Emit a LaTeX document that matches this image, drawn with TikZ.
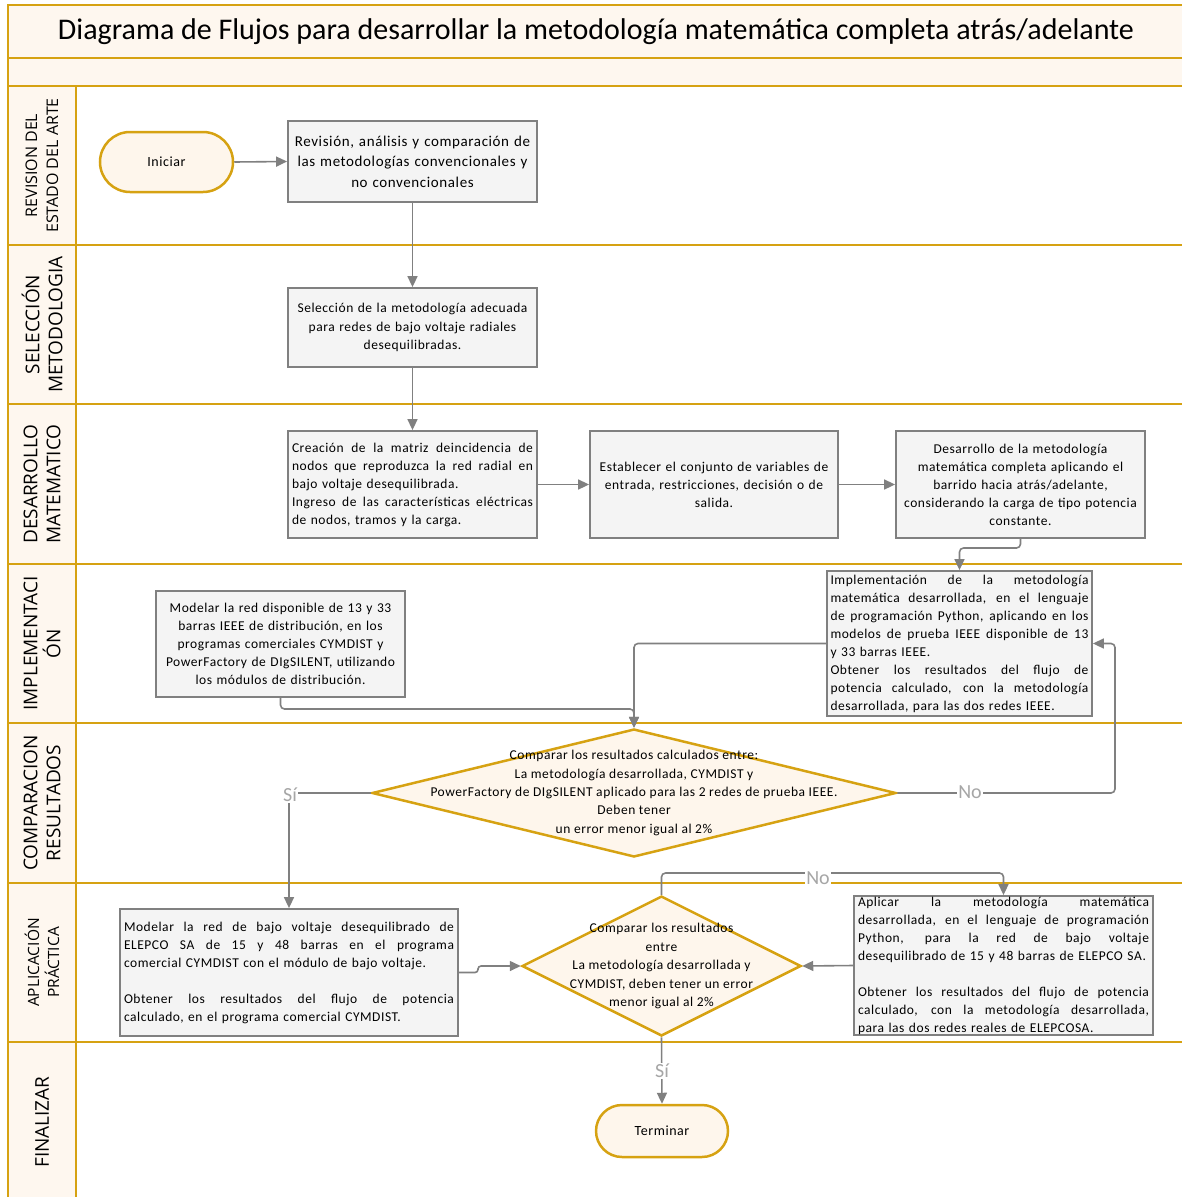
\documentclass[tikz,border=0pt]{standalone}
\usepackage{fontspec}
\setmainfont{Carlito}
\newfontfamily\boxfont[LetterSpace=4]{Carlito}
\newfontfamily\lanefont{Open Sans}
\usetikzlibrary{arrows.meta,shapes.geometric}
\setlength{\parindent}{0pt}
\newcommand{\setfs}[2]{\fontsize{#1}{#2}\selectfont}
% one fully justified line of a block: word spaces stretch to the full width
\newcommand{\fillline}[1]{\makebox[\hsize][s]{\spaceskip=\fontdimen2\font plus 1fil\relax #1}}
\definecolor{lanegold}{RGB}{214,162,18}
\definecolor{lanecream}{RGB}{254,247,239}
\definecolor{stepfill}{RGB}{244,244,244}
\definecolor{stepline}{RGB}{128,128,128}
\definecolor{flowgray}{RGB}{128,128,128}
\definecolor{answergray}{RGB}{166,166,166}
\definecolor{decisionfill}{RGB}{254,246,236}
\begin{document}
\begin{tikzpicture}[x=1pt,y=-1pt,
  laneline/.style={draw=lanegold,line width=2.6pt},
  stepbox/.style={draw=stepline,fill=stepfill,line width=1.8pt,inner xsep=4pt,inner ysep=2pt,font=\boxfont\setfs{13.5}{18}},
  terminal/.style={draw=lanegold,fill=decisionfill,line width=2.5pt,font=\boxfont\setfs{14}{16}},
  decision/.style={diamond,draw=lanegold,fill=decisionfill,line width=2.5pt,inner sep=0pt},
  decisiontext/.style={align=center,inner sep=0pt},
  flow/.style={draw=flowgray,line width=1.6pt,rounded corners=4pt,-{Triangle[length=11pt,width=10pt]}},
  answer/.style={text=answergray,fill=white,inner sep=1pt,font=\setfs{20}{20}},
  lanetitle/.style={rotate=90,align=center}
]
\useasboundingbox (0,0) rectangle (1181,1197);

% swimlane frame
\fill[lanecream] (8,5) rectangle (1190,86);
\fill[lanecream] (8,86) rectangle (76,1205);
\draw[laneline] (1190,5) -- (8,5) -- (8,1205);
\foreach \y in {58,86,245,404,564,723,883,1042}
  \draw[laneline] (8,\y) -- (1190,\y);
\draw[laneline] (76,86) -- (76,1205);

\node[font=\setfs{30}{34}] (title) at (596,32) {Diagrama de Flujos para desarrollar la metodología matemática completa atrás/adelante};

% lane titles
\node[lanetitle,font=\lanefont\setfs{16}{21}] (laneA) at (42,165.5) {REVISION DEL\\ESTADO DEL ARTE};
\node[lanetitle,font=\lanefont\setfs{19}{23}] (laneB) at (42,324.5) {SELECCIÓN\\METODOLOGIA};
\node[lanetitle,font=\lanefont\setfs{19}{23}] (laneC) at (42,484) {DESARROLLO\\MATEMATICO};
\node[lanetitle,font=\lanefont\setfs{19}{23}] (laneD) at (42,643.5) {IMPLEMENTACI\\ÓN};
\node[lanetitle,font=\lanefont\setfs{19}{23}] (laneE) at (42,803) {COMPARACION\\RESULTADOS};
\node[lanetitle,font=\lanefont\setfs{15.5}{20}] (laneF) at (42,962.5) {APLICACIÓN\\PRÁCTICA};
\node[lanetitle,font=\lanefont\setfs{19}{23}] (laneG) at (42,1122) {FINALIZAR};

% process steps
\node[terminal,minimum width=133pt,minimum height=60pt,rounded corners=30pt] (start) at (166.5,162) {Iniciar};

\node[stepbox,minimum width=249pt,minimum height=81pt,text width=241pt,align=center,font=\boxfont\setfs{15}{20.5}] (box1) at (412.5,161.5)
 {Revisión, análisis y comparación de\\las metodologías convencionales y\\no convencionales};

\node[stepbox,minimum width=249pt,minimum height=79pt,text width=241pt,align=center,font=\boxfont\setfs{13.5}{18.5}] (box2) at (412.5,327.5)
 {Selección de la metodología adecuada\\para redes de bajo voltaje radiales\\desequilibradas.};

\node[stepbox,minimum width=249pt,minimum height=107pt,text width=241pt,align=left] (box3) at (412.5,484.5)
 {\fillline{Creación de la matriz deincidencia de}\\
  \fillline{nodos que reproduzca la red radial en}\\
  bajo voltaje desequilibrada.\\
  \fillline{Ingreso de las características eléctricas}\\
  de nodos, tramos y la carga.};

\node[stepbox,minimum width=248pt,minimum height=107pt,text width=240pt,align=center] (box4) at (714,484.5)
 {Establecer el conjunto de variables de\\entrada, restricciones, decisión o de\\salida.};

\node[stepbox,minimum width=249pt,minimum height=107pt,text width=241pt,align=center] (box5) at (1020.5,484.5)
 {Desarrollo de la metodología\\matemática completa aplicando el\\barrido hacia atrás/adelante,\\considerando la carga de tipo potencia\\constante.};

\node[stepbox,minimum width=265pt,minimum height=145pt,inner xsep=3.5pt,inner ysep=0pt,text width=258pt,align=left] (box6) at (959.5,643.5)
 {\fillline{Implementación de la metodología}\\
  \fillline{matemática desarrollada, en el lenguaje}\\
  \fillline{de programación Python, aplicando en los}\\
  \fillline{modelos de prueba IEEE disponible de 13}\\
  y 33 barras IEEE.\\
  \fillline{Obtener los resultados del flujo de}\\
  \fillline{potencia calculado, con la metodología}\\
  desarrollada, para las dos redes IEEE.};

\node[stepbox,minimum width=249pt,minimum height=106pt,text width=241pt,align=center] (box7) at (280.5,644)
 {Modelar la red disponible de 13 y 33\\barras IEEE de distribución, en los\\programas comerciales CYMDIST y\\PowerFactory de DIgSILENT, utilizando\\los módulos de distribución.};

\node[decision,minimum width=524pt,minimum height=128pt] (dia1) at (634,793) {};
\node[decisiontext,font=\boxfont\setfs{13.5}{18.3}] (dia1text) at (dia1.center)
 {Comparar los resultados calculados entre:\\La metodología desarrollada, CYMDIST y\\PowerFactory de DIgSILENT aplicado para las 2 redes de prueba IEEE.\\Deben tener\\un error menor igual al 2\%};

\node[stepbox,minimum width=338pt,minimum height=127pt,text width=330pt,align=left] (box8) at (289,972.5)
 {\fillline{Modelar la red de bajo voltaje desequilibrado de}\\
  \fillline{ELEPCO SA de 15 y 48 barras en el programa}\\
  comercial CYMDIST con el módulo de bajo voltaje.\\
  \mbox{}\\
  \fillline{Obtener los resultados del flujo de potencia}\\
  calculado, en el programa comercial CYMDIST.};

\node[decision,minimum width=279pt,minimum height=140pt] (dia2) at (661.5,966) {};
\node[decisiontext,font=\boxfont\setfs{13.5}{18.5}] (dia2text) at (dia2.center)
 {Comparar los resultados\\entre\\La metodología desarrollada y\\CYMDIST, deben tener un error\\menor igual al 2\%};

\node[stepbox,minimum width=299pt,minimum height=139pt,inner ysep=0pt,text width=291pt,align=left] (box9) at (1003.5,965.5)
 {\fillline{Aplicar la metodología matemática}\\
  \fillline{desarrollada, en el lenguaje de programación}\\
  \fillline{Python, para la red de bajo voltaje}\\
  desequilibrado de 15 y 48 barras de ELEPCO SA.\\
  \mbox{}\\
  \fillline{Obtener los resultados del flujo de potencia}\\
  \fillline{calculado, con la metodología desarrollada,}\\
  para las dos redes reales de ELEPCOSA.};

\node[terminal,minimum width=132pt,minimum height=52pt,rounded corners=26pt] (term) at (662,1131) {Terminar};

% connectors
\draw[flow] (start.east) -- (box1.west);
\draw[flow] (box1) -- (box2);
\draw[flow] (box2) -- (box3);
\draw[flow] (box3) -- (box4);
\draw[flow] (box4) -- (box5);
\draw[flow] (box5.south) -- (1020.5,548) -| (box6.north);
\draw[flow] (box6.west) -| (dia1.north);
\draw[flow] (box7.south) -- (280.5,709) -| (dia1.north);
\draw[flow] (dia1.east) -- (1115,793) |- (box6.east);
\draw[flow] (dia1.west) -| (box8.north);
\draw[flow,rounded corners=3pt] (box8.east) -- (478,972.5) -- (478,966) -- (dia2.west);
\draw[flow] (box9.west) -- (dia2.east);
\draw[flow] (dia2.north) -- (661.5,873) -| (box9.north);
\draw[flow] (dia2.south) -- (term.north);

% branch labels
\node[answer] (yes1) at (290,795) {Sí};
\node[answer] (no1) at (970,792) {No};
\node[answer] (no2) at (818,878) {No};
\node[answer] (yes2) at (662,1071) {Sí};
\end{tikzpicture}
\end{document}
